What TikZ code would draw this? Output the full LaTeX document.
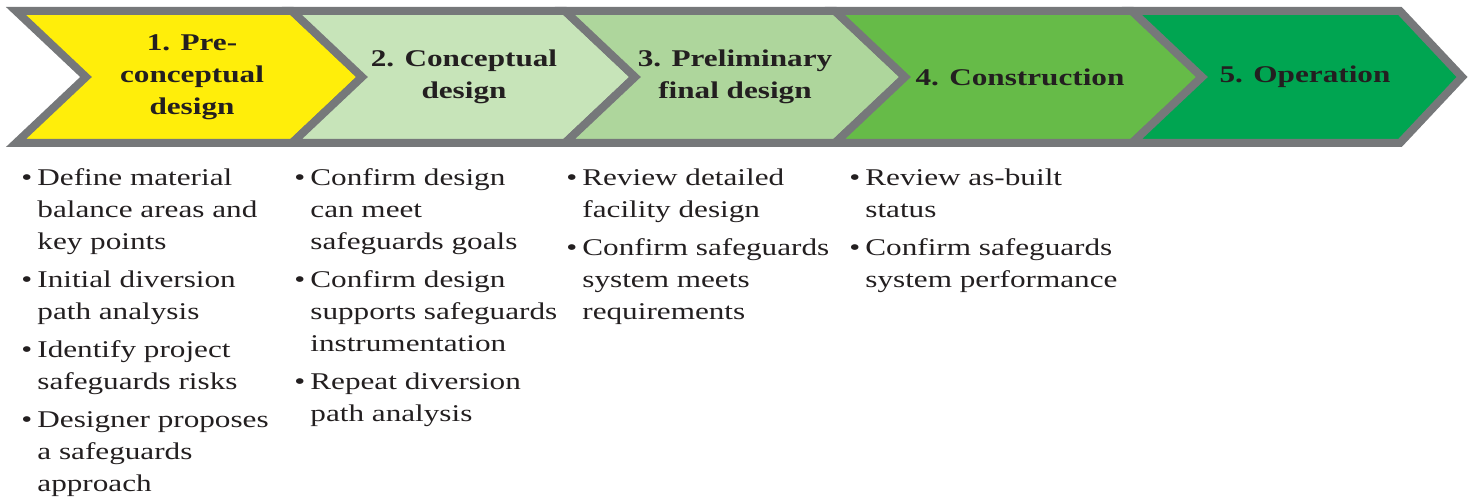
\documentclass[tikz,border=0pt]{standalone}
\usepackage{fontspec}
\setmainfont{Liberation Serif}[FakeStretch=1.3]
\definecolor{chevgrey}{HTML}{76787A}
\definecolor{phaseA}{HTML}{FFEE0A}
\definecolor{phaseB}{HTML}{C7E4B9}
\definecolor{phaseC}{HTML}{AED69C}
\definecolor{phaseD}{HTML}{66BB48}
\definecolor{phaseE}{HTML}{00A551}
\definecolor{inkdark}{HTML}{231F20}
% one bullet item with hanging continuation lines
\newcommand\bitem[1]{\par\noindent\hangindent=8pt\hangafter=1%
  \makebox[8pt][l]{\textbullet}#1\par\vspace{3pt}}
% a chevron: fill colour, left corner x, right corner x, tip depth
\newcommand\chevron[4]{%
  \filldraw[chev, fill=#1] (#2,11) -- (#3,11) -- ({#3+#4},77) -- (#3,143)
    -- (#2,143) -- ({#2+70},77) -- cycle;}
\begin{document}
\begin{tikzpicture}[x=0.5pt,y=-0.5pt,
  chev/.style={draw=chevgrey, line width=4pt, line join=miter},
  head/.style={font=\fontsize{12}{16}\selectfont\bfseries, align=center,
    text=inkdark, inner sep=0pt},
  col/.style={anchor=base west, inner sep=0pt, text=inkdark,
    font=\fontsize{12}{16}\selectfont}]
\useasboundingbox (0,0) rectangle (1468,497);

% phase arrows
\chevron{phaseA}{16}{292}{70}
\chevron{phaseB}{292}{565}{70}
\chevron{phaseC}{565}{835}{70}
\chevron{phaseD}{835}{1132}{70}
\chevron{phaseE}{1132}{1400}{62}

% phase titles
\node[head] (h1) at (192,77) {1. Pre-\\conceptual\\design};
\node[head] (h2) at (464,77) {2. Conceptual\\design};
\node[head] (h3) at (735,77) {3. Preliminary\\final design};
\node[head] (h4) at (1020,77) {4. Construction};
\node[head] (h5) at (1305,77) {5. Operation};

% activities of each phase
\node[col] (c1) at (21,186) {\parbox[t]{140pt}{%
  \bitem{Define material\\balance areas and\\key points}%
  \bitem{Initial diversion\\path analysis}%
  \bitem{Identify project\\safeguards risks}%
  \bitem{Designer proposes\\a safeguards\\approach}}};
\node[col] (c2) at (294,186) {\parbox[t]{140pt}{%
  \bitem{Confirm design\\can meet\\safeguards goals}%
  \bitem{Confirm design\\supports safeguards\\instrumentation}%
  \bitem{Repeat diversion\\path analysis}}};
\node[col] (c3) at (566,186) {\parbox[t]{140pt}{%
  \bitem{Review detailed\\facility design}%
  \bitem{Confirm safeguards\\system meets\\requirements}}};
\node[col] (c4) at (849,186) {\parbox[t]{140pt}{%
  \bitem{Review as-built\\status}%
  \bitem{Confirm safeguards\\system performance}}};
\end{tikzpicture}
\end{document}
